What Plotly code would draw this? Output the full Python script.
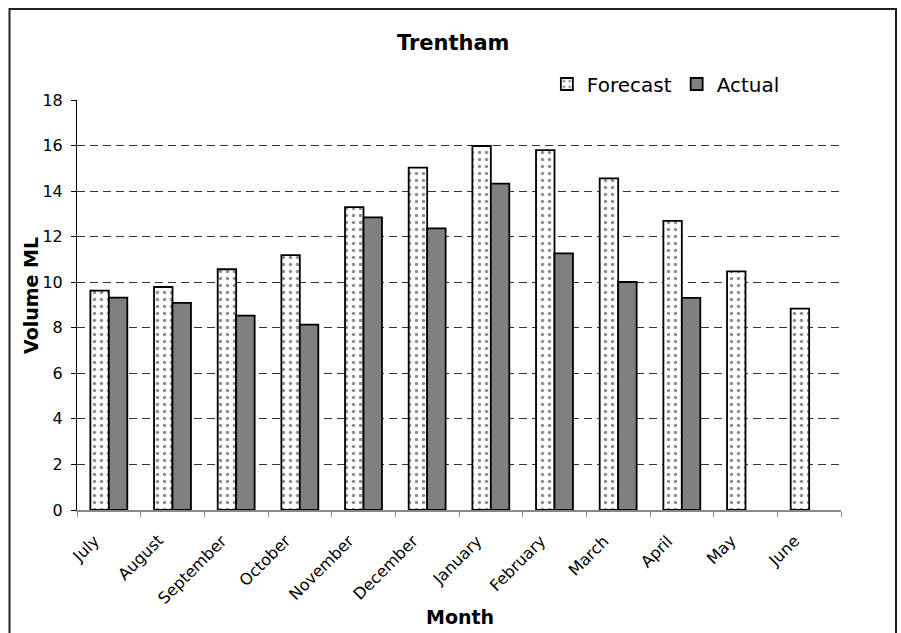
import plotly.graph_objects as go

months = ["July", "August", "September", "October", "November", "December",
          "January", "February", "March", "April", "May", "June"]
forecast = [9.63, 9.79, 10.57, 11.19, 13.30, 15.03, 15.98, 15.80, 14.56, 12.69, 10.48, 8.84]
actual = [9.32, 9.09, 8.53, 8.14, 12.85, 12.36, 14.33, 11.27, 10.01, 9.31, None, None]
y_ticks = [0, 2, 4, 6, 8, 10, 12, 14, 16, 18]
dark_grid = [2, 4, 6, 8, 10, 12, 14, 16]

FONT = "DejaVu Sans"

fig = go.Figure()
fig.add_trace(go.Bar(
    name="Forecast", x=months, y=forecast,
    marker=dict(color="white", line=dict(color="black", width=1.8),
                pattern=dict(shape=".", fgcolor="#222222", bgcolor="white",
                             size=7, solidity=0.2)),
))
fig.add_trace(go.Bar(
    name="Actual", x=months, y=actual,
    marker=dict(color="#808080", line=dict(color="black", width=1.8)),
))
# invisible helper so the overlaid grid axis is drawn
fig.add_trace(go.Scatter(x=[months[0]], y=[0], yaxis="y2", mode="markers",
                         marker=dict(opacity=0), showlegend=False, hoverinfo="skip"))

# rotated month labels, anchored like the reference (top-right at the category)
month_labels = [
    dict(text=m, x=m, xref="x", yref="paper", y=(510 - 530) / 410,
         xanchor="right", yanchor="top", xshift=-4, textangle=-45,
         showarrow=False, borderpad=0,
         font=dict(family=FONT, size=16, color="black"))
    for m in months
]

fig.update_layout(
    width=901, height=633,
    margin=dict(l=77, r=60, t=100, b=123),
    paper_bgcolor="white", plot_bgcolor="white",
    font=dict(family=FONT, size=16, color="black"),
    barmode="group", bargap=0.42, bargroupgap=0,
    title=dict(text="<b>Trentham</b>", x=0.503, xref="container", xanchor="center",
               y=1 - 43 / 633, yref="container", yanchor="middle",
               font=dict(family=FONT, size=21, color="black")),
    legend=dict(orientation="h", x=0.615, xanchor="left", y=1.039, yanchor="middle",
                bgcolor="white", font=dict(family=FONT, size=20, color="black"),
                traceorder="normal"),
    showlegend=True,
    xaxis=dict(
        type="category", range=[-0.5, len(months) - 0.5], tickson="boundaries",
        ticks="outside", ticklen=5, tickcolor="#888888",
        showline=True, linecolor="#888888", linewidth=1.5,
        showticklabels=False, showgrid=False,
    ),
    yaxis=dict(
        range=[0, 18], tickvals=y_ticks, ticks="outside", ticklen=5,
        tickcolor="black", showline=True, linecolor="black", linewidth=1,
        ticklabelstandoff=5,
        showgrid=True, gridcolor="#d0d0d0", griddash="8px,5px", gridwidth=1,
        zeroline=False, tickfont=dict(family=FONT, size=16, color="black"),
    ),
    yaxis2=dict(
        range=[0, 18], overlaying="y", side="left", tickvals=dark_grid,
        showgrid=True, gridcolor="#333333", griddash="8px,5px", gridwidth=1,
        showticklabels=False, ticks="", showline=False, zeroline=False,
    ),
    annotations=month_labels + [
        dict(text="<b>Volume ML</b>", xref="paper", yref="paper",
             x=(31 - 77) / 764, y=(510 - 296) / 410, textangle=-90,
             xanchor="center", yanchor="middle", showarrow=False,
             font=dict(family=FONT, size=19, color="black")),
        dict(text="<b>Month</b>", xref="paper", yref="paper",
             x=(460 - 77) / 764, y=(510 - 617) / 410,
             xanchor="center", yanchor="middle", showarrow=False,
             font=dict(family=FONT, size=19, color="black")),
    ],
    shapes=[
        dict(type="rect", xref="paper", yref="paper",
             x0=(9.5 - 77) / 764, x1=(896 - 77) / 764,
             y0=-0.4, y1=(510 - 9) / 410,
             line=dict(color="#222222", width=2), fillcolor="rgba(0,0,0,0)",
             layer="below"),
    ],
)

fig.write_html("out.html", config={"displayModeBar": False},
               post_script="document.body.style.margin='0';document.body.style.padding='0';")
